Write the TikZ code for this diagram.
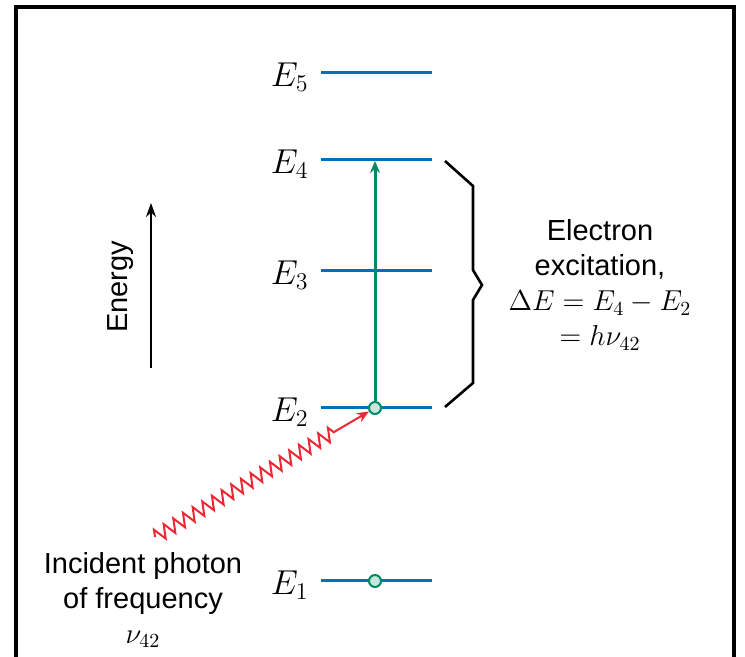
\documentclass[tikz,border=0pt]{standalone}
\usepackage{fontspec}
\setmainfont{Liberation Sans}
\usepackage{tikz}
\usetikzlibrary{arrows.meta,positioning,decorations.pathmorphing}
\definecolor{lvblue}{RGB}{0,112,186}
\definecolor{exgreen}{RGB}{0,138,100}
\definecolor{phred}{RGB}{236,40,52}
\definecolor{dotfill}{RGB}{200,230,218}

\begin{document}
\begin{tikzpicture}[x=0.5pt, y=-0.5pt, every node/.style={font=\fontsize{14.5}{17.5}\selectfont},
  level/.style={draw=lvblue, line width=1.5pt},
  elabel/.style={font=\fontsize{17}{20}\selectfont, inner sep=0pt},
  electron/.style={circle, draw=exgreen, fill=dotfill, line width=1pt, minimum size=6pt, inner sep=0pt}]
\useasboundingbox (0,0) rectangle (745,657);
\draw[line width=1.6pt] (16,657) -- (16,7) -- (734,7) -- (734,657);
% energy levels
\foreach \n/\y in {1/581,2/408,3/271,4/160,5/73} {
  \coordinate (L\n) at (321,\y); \coordinate (R\n) at (432,\y);
  \draw[level] (L\n) -- (R\n);
  \node[elabel, left=6pt of L\n, yshift=-2pt] (E\n) {$E_{\n}$};
}
\node[electron] (dot1) at (375,581) {};
\node[electron] (dot2) at (375,408) {};
\coordinate (top4) at (375,161);
\draw[exgreen, line width=1.5pt, -{Stealth[length=6pt,width=5pt]}] (dot2) -- (top4);
% brace
\draw[line width=1.3pt] (R4) ++(13,1) -- (473,186) -- (473,270) -- (482,285) coordinate (tip)
  -- (473,300) -- (473,383) -- (445,407);
\node[align=center] (exc) at (600,285) {Electron\\excitation,\\$\Delta E = E_4 - E_2$\\$= h\nu_{42}$};
% energy axis
\coordinate (ea) at (151,368); \coordinate (eb) at (151,203);
\draw[line width=1.3pt, -{Stealth[length=7pt,width=5pt]}] (ea) -- (eb);
\node[rotate=90] (en) at (121,287) {Energy};
% photon
\coordinate (ph) at (155,537);
\draw[phred, line width=1pt, -{Stealth[length=6pt,width=5pt]},
  decorate, decoration={zigzag, segment length=5.6pt, amplitude=3.4pt, post length=20pt}]
  (ph) -- (dot2);
\node[align=center] (inc) at (143,600) {Incident photon\\of frequency\\$\nu_{42}$};
\end{tikzpicture}
\end{document}
